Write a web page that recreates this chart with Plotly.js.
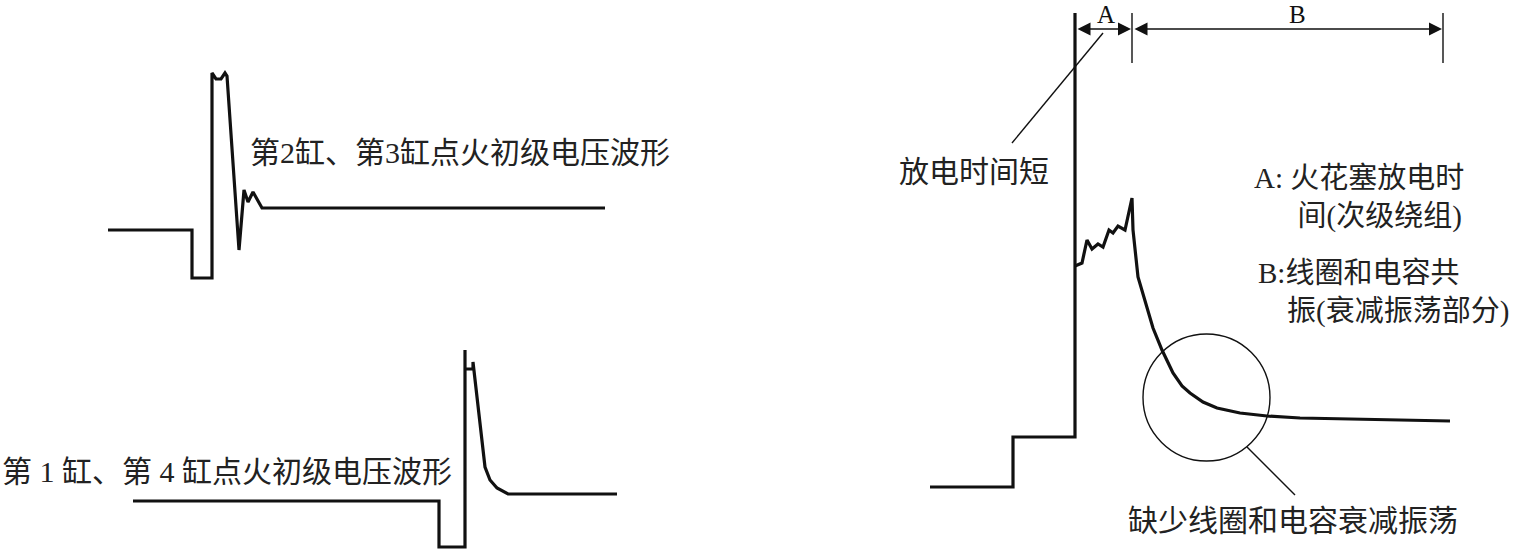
<!DOCTYPE html>
<html>
<head>
<meta charset="utf-8">
<script src="https://cdn.plot.ly/plotly-3.0.1.min.js"></script>
<style>html,body{margin:0;padding:0;background:#fff;}#chart{width:1527px;height:549px;}</style>
</head>
<body>
<div id="chart"></div>
<script>
// ---- Data (diagram coordinates, y grows downward) ----
// Cylinder 2/3 primary ignition voltage waveform
const wave23X = [108, 192, 192, 212, 212, 216, 221, 225, 227, 239, 244, 248, 253, 262, 605];
const wave23Y = [230, 230, 278, 278, 73, 79, 79, 73, 76, 250, 190, 202, 192, 208, 208];
// Cylinder 1/4 primary ignition voltage waveform
const wave14X = [133, 439, 439, 465, 465, 465, 473, 473, 485, 490, 497, 508, 617];
const wave14Y = [501, 501, 547, 547, 350, 369, 369, 362, 467, 480, 488, 494, 494];
// Secondary waveform: steps + firing line
const stepX = [930, 1013, 1013, 1075, 1075];
const stepY = [487, 487, 437, 437, 13];
// Secondary waveform: spark line and decay (no oscillation)
const sparkX = [1075, 1082, 1087, 1092, 1098, 1103, 1109, 1113, 1118, 1125, 1132, 1133, 1138, 1146, 1153, 1162, 1173, 1182, 1190, 1203, 1217, 1240, 1267, 1300, 1340, 1400, 1450];
const sparkY = [266, 263, 240, 249, 244, 247, 230, 233, 226, 230, 198, 230, 277, 303, 328, 350, 373, 386, 393, 402, 408, 413, 416, 418, 419, 420, 421];
// Leader lines
const leader1X = [1103, 1012];
const leader1Y = [33, 143];
const leader2X = [1247, 1295];
const leader2Y = [447, 495];
// Dimension ticks (A / B)
const tickX = [1132, 1443];
const tickY = [13, 63];
const dimY = 29;
const dimAX = [1075, 1132];
const dimBX = [1132, 1443];
// Circle marking missing oscillation
const circleC = [1206.5, 397.5];
const circleR = 63.5;
// Labels
const labelTexts = [
  '第2缸、第3缸点火初级电压波形',
  '第 1 缸、第 4 缸点火初级电压波形',
  '放电时间短',
  '缺少线圈和电容衰减振荡'
];
const labelX = [248, 0, 897, 1126];
const labelY = [152, 471, 171, 520];
// Two-line legend notes
const noteTexts = [
  'A: 火花塞放电时<br>\u3000\u00a0\u00a0间(次级绕组)',
  'B:线圈和电容共<br>\u00a0\u00a0\u00a0\u00a0振(衰减振荡部分)'
];
const noteX = [1252, 1256];
const noteY = [197, 292];
const dimLabels = ['A', 'B'];
const dimLabelX = [1106, 1297];

// ---- Build ----
const thick = {color: '#111', width: 3.2};
const thin = {color: '#111', width: 1.4};
function lineTrace(x, y, line) {
  return {type: 'scatter', mode: 'lines', x: x, y: y, line: Object.assign({shape: 'linear'}, line), hoverinfo: 'skip', showlegend: false};
}
const traces = [
  lineTrace(wave23X, wave23Y, thick),
  lineTrace(wave14X, wave14Y, thick),
  lineTrace(stepX, stepY, thick),
  lineTrace(sparkX, sparkY, thick),
  lineTrace(leader1X, leader1Y, thin),
  lineTrace(leader2X, leader2Y, thin),
  lineTrace([tickX[0], tickX[0]], tickY, thin),
  lineTrace([tickX[1], tickX[1]], tickY, thin)
];

const font = 'Liberation Serif, "Noto Sans CJK SC", serif';
const annotations = [];
labelTexts.forEach(function (t, i) {
  annotations.push({x: labelX[i], y: labelY[i], xref: 'x', yref: 'y', text: t, showarrow: false,
    xanchor: 'left', yanchor: 'middle', font: {family: font, size: 30, color: '#222'}});
});
noteTexts.forEach(function (t, i) {
  annotations.push({x: noteX[i], y: noteY[i], xref: 'x', yref: 'y', text: t, showarrow: false, align: 'left',
    xanchor: 'left', yanchor: 'middle', font: {family: font, size: 29, color: '#222'}});
});
dimLabels.forEach(function (t, i) {
  annotations.push({x: dimLabelX[i], y: 0, xref: 'x', yref: 'y', text: t, showarrow: false, borderpad: 0,
    xanchor: 'center', yanchor: 'top', font: {family: font, size: 25, color: '#111'}});
});
[dimAX, dimBX].forEach(function (d) {
  annotations.push({x: d[1] - 1, y: dimY, ax: d[0] + 1, ay: dimY, xref: 'x', yref: 'y', axref: 'x', ayref: 'y',
    text: '', showarrow: true, arrowhead: 2, arrowside: 'end+start', arrowsize: 2, arrowwidth: 1.3,
    arrowcolor: '#111', standoff: 0, startstandoff: 0});
});

const shapes = [{type: 'circle', xref: 'x', yref: 'y',
  x0: circleC[0] - circleR, x1: circleC[0] + circleR, y0: circleC[1] - circleR, y1: circleC[1] + circleR,
  line: {color: '#111', width: 1.4}}];

const layout = {
  width: 1527, height: 549,
  margin: {l: 0, r: 0, t: 0, b: 0},
  paper_bgcolor: '#fff', plot_bgcolor: '#fff',
  xaxis: {range: [0, 1527], visible: false, fixedrange: true},
  yaxis: {range: [549, 0], visible: false, fixedrange: true},
  annotations: annotations,
  shapes: shapes,
  hovermode: false
};
Plotly.newPlot('chart', traces, layout, {staticPlot: true, displayModeBar: false});
</script>
</body>
</html>
